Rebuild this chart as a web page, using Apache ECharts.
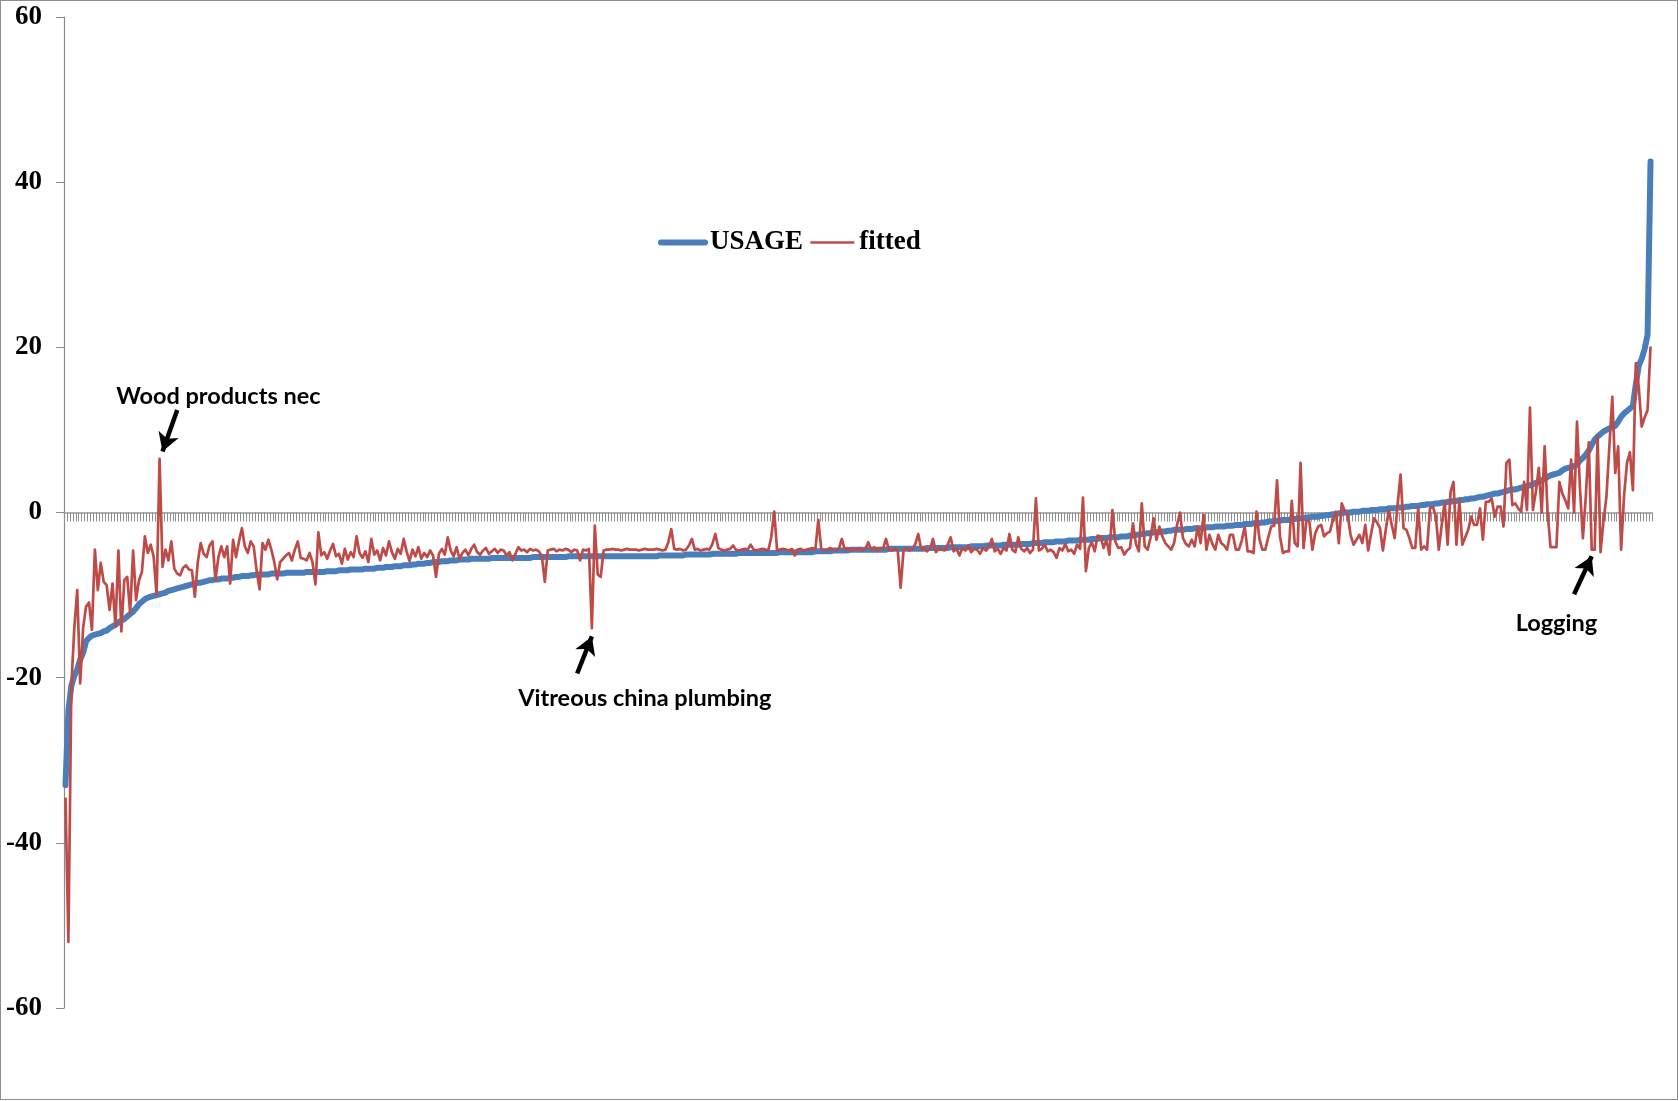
<!DOCTYPE html>
<html>
<head>
<meta charset="utf-8">
<script src="https://cdn.jsdelivr.net/npm/echarts@6.0.0/dist/echarts.min.js"></script>
<style>
html,body{margin:0;padding:0;background:#fff;}
#chart{position:absolute;left:0;top:0;width:1678px;height:1101px;}
#frame{position:absolute;left:0;top:0;width:1678px;height:1100px;box-sizing:border-box;border:1.5px solid #8e8e8e;pointer-events:none;}
</style>
</head>
<body>
<div id="chart"></div>
<div id="frame"></div>
<script>
// ---- data ----
const seriesNames = ['USAGE', 'fitted'];

const usage = [
-33, -24, -21, -19.8, -19, -17.8, -17, -15.6, -15.2, -14.9,
-14.8, -14.7, -14.6, -14.4, -14.3, -14.0, -13.8, -13.6, -13.3, -13.1,
-12.9, -12.6, -12.3, -12.0, -11.6, -11.1, -10.8, -10.5, -10.3, -10.2,
-10.1, -10.0, -9.9, -9.8, -9.7, -9.5, -9.4, -9.3, -9.2, -9.1,
-9.0, -8.9, -8.8, -8.7, -8.6, -8.5, -8.5, -8.4, -8.3, -8.2,
-8.2, -8.1, -8.1, -8.0, -8.0, -8.0, -7.9, -7.9, -7.8, -7.8,
-7.7, -7.7, -7.7, -7.6, -7.6, -7.5, -7.5, -7.5, -7.5, -7.5,
-7.4, -7.4, -7.4, -7.4, -7.4, -7.3, -7.3, -7.3, -7.3, -7.3,
-7.3, -7.3, -7.2, -7.2, -7.2, -7.2, -7.2, -7.2, -7.2, -7.1,
-7.1, -7.1, -7.1, -7.0, -7.0, -7.0, -7.0, -6.9, -6.9, -6.9,
-6.9, -6.9, -6.8, -6.8, -6.8, -6.8, -6.7, -6.7, -6.7, -6.6,
-6.6, -6.6, -6.5, -6.5, -6.5, -6.4, -6.4, -6.4, -6.3, -6.3,
-6.2, -6.2, -6.2, -6.1, -6.1, -6.0, -6.0, -6.0, -5.9, -5.9,
-5.9, -5.8, -5.8, -5.8, -5.7, -5.7, -5.7, -5.7, -5.6, -5.6,
-5.6, -5.6, -5.6, -5.6, -5.6, -5.5, -5.5, -5.5, -5.5, -5.5,
-5.5, -5.5, -5.5, -5.5, -5.5, -5.5, -5.5, -5.5, -5.5, -5.4,
-5.4, -5.4, -5.4, -5.4, -5.4, -5.4, -5.4, -5.4, -5.4, -5.4,
-5.4, -5.3, -5.3, -5.3, -5.3, -5.3, -5.3, -5.3, -5.3, -5.3,
-5.3, -5.3, -5.3, -5.3, -5.3, -5.3, -5.3, -5.3, -5.3, -5.3,
-5.3, -5.3, -5.3, -5.3, -5.3, -5.3, -5.3, -5.3, -5.3, -5.3,
-5.3, -5.3, -5.2, -5.2, -5.2, -5.2, -5.2, -5.2, -5.2, -5.2,
-5.2, -5.1, -5.1, -5.1, -5.1, -5.1, -5.1, -5.1, -5.1, -5.1,
-5.0, -5.0, -5.0, -5.0, -5.0, -5.0, -5.0, -5.0, -5.0, -4.9,
-4.9, -4.9, -4.9, -4.9, -4.9, -4.9, -4.9, -4.9, -4.9, -4.9,
-4.9, -4.9, -4.9, -4.8, -4.8, -4.8, -4.8, -4.8, -4.8, -4.8,
-4.8, -4.8, -4.8, -4.8, -4.8, -4.7, -4.7, -4.7, -4.7, -4.7,
-4.7, -4.6, -4.6, -4.6, -4.6, -4.6, -4.6, -4.5, -4.5, -4.5,
-4.5, -4.5, -4.5, -4.5, -4.5, -4.5, -4.5, -4.5, -4.5, -4.5,
-4.4, -4.4, -4.4, -4.4, -4.4, -4.4, -4.4, -4.4, -4.4, -4.4,
-4.4, -4.4, -4.4, -4.3, -4.3, -4.3, -4.3, -4.3, -4.3, -4.3,
-4.3, -4.2, -4.2, -4.2, -4.2, -4.2, -4.2, -4.2, -4.1, -4.1,
-4.1, -4.1, -4.1, -4.0, -4.0, -4.0, -4.0, -4.0, -4.0, -3.9,
-3.9, -3.9, -3.9, -3.9, -3.9, -3.8, -3.8, -3.8, -3.8, -3.7,
-3.7, -3.7, -3.7, -3.6, -3.6, -3.6, -3.6, -3.5, -3.5, -3.5,
-3.5, -3.4, -3.4, -3.4, -3.4, -3.3, -3.3, -3.3, -3.3, -3.2,
-3.2, -3.2, -3.1, -3.1, -3.1, -3.0, -3.0, -3.0, -3.0, -2.9,
-2.9, -2.9, -2.8, -2.8, -2.7, -2.7, -2.6, -2.6, -2.5, -2.5,
-2.4, -2.4, -2.4, -2.3, -2.3, -2.2, -2.2, -2.1, -2.1, -2.1,
-2.1, -2.0, -2.0, -2.0, -1.9, -1.9, -1.9, -1.9, -1.8, -1.8,
-1.8, -1.7, -1.7, -1.7, -1.7, -1.6, -1.6, -1.6, -1.5, -1.5,
-1.5, -1.4, -1.4, -1.4, -1.3, -1.3, -1.3, -1.2, -1.2, -1.1,
-1.1, -1.1, -1.0, -1.0, -0.9, -0.9, -0.9, -0.8, -0.8, -0.7,
-0.7, -0.7, -0.6, -0.6, -0.5, -0.5, -0.5, -0.4, -0.4, -0.3,
-0.3, -0.2, -0.2, -0.1, -0.1, 0.0, 0.0, 0.0, 0.1, 0.1,
0.1, 0.2, 0.2, 0.2, 0.3, 0.3, 0.3, 0.4, 0.4, 0.4,
0.5, 0.5, 0.5, 0.6, 0.6, 0.6, 0.7, 0.7, 0.8, 0.8,
0.8, 0.9, 0.9, 1.0, 1.0, 1.0, 1.1, 1.1, 1.2, 1.2,
1.3, 1.3, 1.4, 1.4, 1.5, 1.5, 1.6, 1.6, 1.7, 1.7,
1.8, 1.9, 1.9, 2.0, 2.1, 2.2, 2.3, 2.3, 2.4, 2.5,
2.6, 2.7, 2.8, 2.8, 2.9, 3.0, 3.1, 3.2, 3.3, 3.4,
3.6, 3.7, 3.9, 4.1, 4.3, 4.5, 4.6, 4.7, 4.8, 5.1,
5.3, 5.4, 5.5, 5.6, 5.8, 6.3, 6.6, 7.0, 7.5, 8.2,
8.8, 9.2, 9.5, 9.8, 10.0, 10.2, 10.3, 10.5, 11.0, 11.6,
12.0, 12.3, 12.6, 12.9, 15.5, 17.8, 18.6, 19.8, 21.5, 42.5
];

const fitted = [
-34.5, -52, -21, -14, -9.4, -20.7, -14, -11.4, -10.9, -14.2,
-4.5, -9.4, -6.1, -8.4, -8.8, -11.8, -8.6, -13.8, -4.6, -14.4,
-8.2, -7.8, -12.2, -4.6, -10.6, -8.2, -7.2, -2.9, -4.9, -3.9,
-5.4, -10, 6.5, -6.6, -4.5, -5.8, -3.5, -6.8, -7.4, -7.6,
-6.7, -6.4, -6.9, -7.0, -10.2, -6, -3.7, -5, -5.4, -4,
-3.5, -8.2, -5.4, -4.1, -5.4, -4.1, -8.6, -3.3, -5.4, -3.5,
-1.9, -4.1, -4.9, -3.5, -4.1, -7, -9.3, -3.7, -4.5, -3.3,
-4.5, -6, -8.1, -6, -5.6, -5.2, -4.9, -5.8, -4.5, -3.5,
-5.5, -5.6, -5.8, -4.9, -6, -8.7, -2.4, -5.2, -4.8, -5.6,
-4.6, -3.8, -5.3, -5.0, -6.2, -4.4, -5.7, -4.8, -5.4, -2.9,
-4.9, -5.5, -4.7, -6.0, -3.2, -5.1, -4.6, -5.8, -4.3, -5.2,
-3.5, -4.8, -5.6, -4.4, -5.0, -3.2, -4.7, -5.9, -4.5, -5.3,
-4.2, -5.6, -4.9, -5.4, -4.6, -5.2, -7.8, -5.0, -4.4, -5.1,
-3.0, -4.6, -5.3, -4.2, -5.6, -4.9, -4.5, -5.2, -4.4, -3.9,
-4.8, -5.1, -4.6, -4.3, -5.0, -4.7, -4.4, -4.9, -4.5, -4.6,
-5.2, -4.8, -5.8, -5.0, -4.2, -4.6, -4.5, -4.8, -4.4, -4.6,
-4.5, -4.7, -5.3, -8.4, -4.6, -4.5, -4.4, -4.7, -4.5, -4.6,
-4.4, -4.5, -4.8, -4.5, -4.6, -5.8, -4.5, -4.6, -4.4, -14,
-1.6, -7.5, -7.8, -4.6, -4.5, -4.5, -4.4, -4.5, -4.5, -4.6,
-4.5, -4.4, -4.5, -4.5, -4.5, -4.6, -4.5, -4.4, -4.5, -4.5,
-4.5, -4.4, -4.5, -4.6, -4.5, -3.6, -2.0, -4.4, -4.5, -4.4,
-4.6, -4.5, -4.0, -3.2, -4.5, -4.4, -4.6, -4.5, -4.4, -4.5,
-3.8, -2.6, -4.3, -4.5, -4.6, -4.5, -4.4, -4.0, -4.5, -4.6,
-4.5, -4.4, -4.5, -3.9, -4.5, -4.6, -4.5, -4.4, -4.5, -4.6,
-3.0, 0.1, -4.6, -4.5, -4.4, -4.5, -4.6, -4.4, -5.2, -4.5,
-4.4, -4.6, -4.5, -4.4, -4.3, -4.5, -0.9, -4.4, -4.6, -4.5,
-4.3, -4.5, -4.6, -4.4, -3.2, -4.5, -4.3, -4.6, -4.4, -4.5,
-4.3, -4.6, -4.4, -3.6, -4.5, -4.2, -4.6, -4.3, -4.4, -3.2,
-4.5, -4.6, -4.4, -4.5, -9.1, -4.5, -4.3, -4.6, -4.4, -3.8,
-2.6, -4.5, -4.2, -4.7, -4.4, -3.2, -4.8, -4.3, -4.5, -4.6,
-3.9, -3.0, -4.7, -4.4, -5.2, -4.3, -4.6, -4.0, -4.8, -4.4,
-4.5, -5.0, -4.3, -4.6, -4.2, -3.2, -4.7, -4.4, -5.0, -4.3,
-4.6, -2.6, -4.5, -4.8, -3.0, -4.4, -4.7, -4.3, -4.9, -4.5,
1.7, -4.6, -4.4, -3.9, -4.7, -4.5, -4.8, -5.5, -4.3, -4.6,
-3.8, -4.7, -4.5, -5.0, -3.9, -4.4, 1.8, -7.1, -4.3, -3.6,
-4.7, -2.8, -2.9, -4.3, -3.3, -5.1, 0.3, -3.5, -4.3, -4.2,
-5.1, -4.6, -4.3, -1.3, -3.8, -4.7, 1.1, -4.1, -4.5, -3.0,
-0.7, -3.3, -1.7, -2.9, -3.7, -4.1, -4.5, -3.7, -1.5, 0.0,
-3.1, -3.8, -4.1, -3.3, -4.1, -1.7, -3.7, -0.3, -4.5, -2.7,
-3.8, -4.5, -2.7, -3.7, -4.0, -4.5, -2.7, -2.7, -4.5, -4.5,
-3.4, -1.7, -4.7, -4.7, -4.9, 0.1, -3.2, -4.5, -4.5, -3.0,
-1.7, -1.6, 3.9, -2.9, -4.9, -4.7, -4.7, 1.4, -3.7, -4.1,
6.0, -4.3, -0.9, -1.1, -4.5, -2.5, -1.7, -1.5, -2.9, -2.5,
-2.3, -0.9, 0.1, -3.7, 1.1, 0.2, -0.3, -2.7, -3.9, -3.3,
-2.7, -3.7, -1.5, -4.6, -2.5, -0.7, -1.2, -1.9, -4.6, -2.0,
0.3, -1.5, -3.1, 1.0, 4.6, -1.9, -2.1, -3.1, -4.3, -4.3,
0.5, -4.5, -4.1, -4.5, 0.5, 0.7, -0.5, -4.5, -1.5, 1.3,
-3.9, 2.5, 3.7, -3.9, 1.5, -3.9, -3.0, -2.1, -0.5, -1.5,
-1.5, 0.5, -3.3, 1.3, 1.3, 1.7, -0.5, 0.7, 0.7, -1.7,
6.0, 6.4, 0.9, 1.1, 0.5, 0.1, 3.7, 0.3, 12.7, 0.3,
2.5, 5.4, 0, 8, 0, -4.2, -4.2, -4.2, 3.7, 2.3,
1.5, 0.5, 6.4, 0, 11, 3, -3.1, 2, 8.5, -4.5,
-4.5, 9.2, -4.8, -1, 1.9, 8, 14, 4.8, 8, -4.5,
2, 6, 7.3, 2.7, 18.1, 15.2, 10.4, 11.5, 12.4, 20.1
];

const yTicks = [-60, -40, -20, 0, 20, 40, 60];

// annotated industries: label text, label anchor [index, value], arrow tail, arrow tip
const annotLabels = ['Wood products nec', 'Vitreous china plumbing', 'Logging'];
const annotLabelAt = [[52, 14.1], [197, -22.5], [507, -13.4]];
const annotArrowFrom = [[38, 12.4], [174, -19.5], [513, -9.9]];
const annotArrowTo = [[33, 7.4], [179, -15.0], [519, -5.3]];

// ---- chart ----
const categories = usage.map((_, i) => String(i + 1));

const chart = echarts.init(document.getElementById('chart'), null, {renderer: 'canvas'});

const serifBold = {fontFamily: 'Liberation Serif', fontWeight: 'bold', color: '#000'};

chart.setOption({
  animation: false,
  backgroundColor: '#fff',
  grid: {left: 64, right: 26, top: 17, bottom: 93, containLabel: false},
  legend: {
    left: 658,
    top: 229,
    padding: 0,
    itemGap: 6,
    itemWidth: 44,
    itemHeight: 14,
    itemStyle: {opacity: 0},
    lineStyle: {width: 'inherit'},
    textStyle: Object.assign({fontSize: 27}, serifBold),
    data: seriesNames.slice()
  },
  xAxis: {
    type: 'category',
    data: categories,
    boundaryGap: true,
    axisLine: {show: true, onZero: true, lineStyle: {color: '#999', width: 1.5}},
    axisTick: {show: true, interval: 0, length: 9, lineStyle: {color: '#8f8f8f', width: 1}},
    axisLabel: {show: false},
    splitLine: {show: false}
  },
  yAxis: {
    type: 'value',
    min: yTicks[0],
    max: yTicks[yTicks.length - 1],
    interval: 20,
    axisLine: {show: true, lineStyle: {color: '#8a8a8a', width: 1.2}},
    axisTick: {show: true, length: 8, lineStyle: {color: '#8a8a8a'}},
    axisLabel: Object.assign({fontSize: 27, margin: 22}, serifBold),
    splitLine: {show: false}
  },
  series: [
    {
      name: seriesNames[0],
      type: 'line',
      data: usage,
      symbol: 'none',
      showSymbol: false,
      lineStyle: {color: '#4a7ebb', width: 6, cap: 'round', join: 'round'},
      itemStyle: {color: '#4a7ebb'},
      emphasis: {disabled: true},
      z: 2
    },
    {
      name: seriesNames[1],
      type: 'line',
      data: fitted,
      symbol: 'none',
      showSymbol: false,
      lineStyle: {color: '#be4b48', width: 2.7, join: 'round'},
      itemStyle: {color: '#be4b48'},
      emphasis: {disabled: true},
      z: 3,
      markLine: {
        silent: true,
        symbol: ['none', 'arrow'],
        symbolSize: [16, 18],
        label: {show: false},
        lineStyle: {color: '#000', width: 4.5, type: 'solid'},
        emphasis: {disabled: true},
        data: annotArrowFrom.map((from, k) => [
          {coord: from},
          {coord: annotArrowTo[k]}
        ])
      },
      markPoint: {
        silent: true,
        symbol: 'circle',
        symbolSize: 1,
        itemStyle: {color: 'rgba(0,0,0,0)'},
        label: {
          show: true,
          position: 'inside',
          color: '#000',
          fontFamily: 'Lato',
          fontWeight: 'bold',
          fontSize: 23.5,
          formatter: p => p.name
        },
        data: annotLabels.map((t, k) => ({name: t, coord: annotLabelAt[k]}))
      }
    }
  ]
});
</script>
</body>
</html>
